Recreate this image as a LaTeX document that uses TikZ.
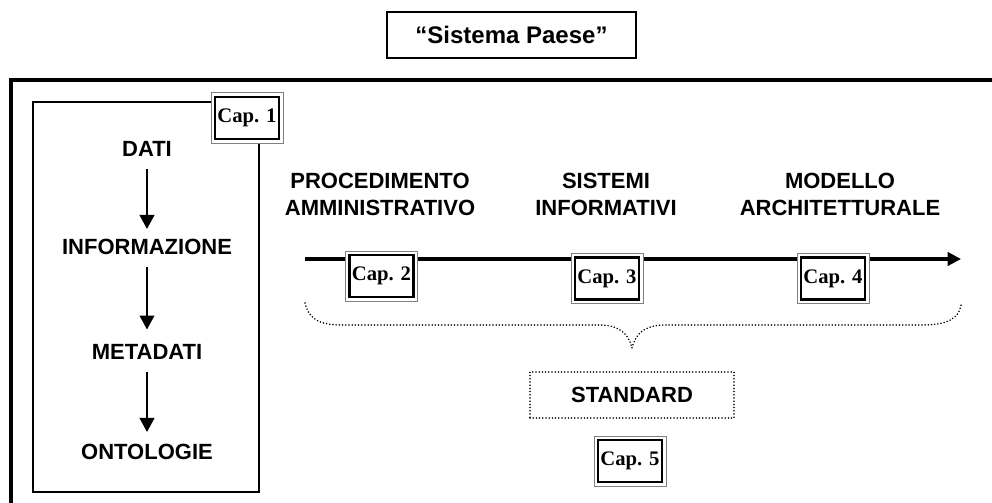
\documentclass[tikz,border=0pt]{standalone}
\usepackage{fontspec}
\setmainfont{Liberation Sans}
\newfontfamily\capserif{Liberation Serif}
\usetikzlibrary{arrows.meta}

\begin{document}
\begin{tikzpicture}[x=0.75pt, y=-0.75pt,
  lbl/.style={font=\fontsize{16.5}{20}\selectfont\bfseries, align=center, inner sep=0pt},
  capouter/.style={draw=gray, fill=white, line width=0.75pt, outer sep=0pt,
    minimum width=54pt, minimum height=37.5pt, inner sep=0pt},
  capinner/.style={draw=black, line width=2.2pt, outer sep=0pt, inner sep=0pt,
    minimum width=48pt, minimum height=31.5pt,
    font=\capserif\fontsize{15.5}{15.5}\selectfont\bfseries},
  flowarrow/.style={line width=1.5pt, -{Triangle[length=10.5pt, width=11pt]}},
  dotline/.style={line width=1.3pt, line cap=round, dash pattern=on 0pt off 2.4pt},
]
\useasboundingbox (0,0) rectangle (992,503);

% title box
\node[draw, line width=1.4pt, minimum width=186.75pt, minimum height=34.5pt,
  font=\fontsize{18}{18}\selectfont\bfseries] (title) at (511.5,35) {“Sistema Paese”};

% outer frame (top and left edges)
\coordinate (frTL) at (11,80);
\coordinate (frTR) at (992,80);
\coordinate (frBL) at (11,503);
\draw[line width=2.5pt] (frBL) -- (frTL) -- (frTR);

% left column box
\node[draw, line width=0.9pt, minimum width=169.5pt, minimum height=292.5pt,
  inner sep=0pt] (leftbox) at (146,297) {};

% left column items
\node[lbl] (dati) at (147,149) {DATI};
\node[lbl] (info) at (147,247) {INFORMAZIONE};
\node[lbl] (meta) at (147,352) {METADATI};
\node[lbl] (onto) at (147,452) {ONTOLOGIE};

\draw[flowarrow, shorten <=9pt, shorten >=7.5pt] (dati) -- (info);
\draw[flowarrow, shorten <=9pt, shorten >=11pt] (info) -- (meta);
\draw[flowarrow, shorten <=9pt, shorten >=9pt] (meta) -- (onto);

% headings above the time line
\node[lbl] (proc) at (380,194.5) {PROCEDIMENTO\\AMMINISTRATIVO};
\node[lbl] (sist) at (606,194.5) {SISTEMI\\INFORMATIVI};
\node[lbl] (mod) at (840,194.5) {MODELLO\\ARCHITETTURALE};

% time line
\coordinate (tlA) at (305,259);
\coordinate (tlB) at (961,259);
\draw[line width=2.3pt, -{Triangle[length=10pt, width=10pt]}] (tlA) -- (tlB);

% dotted brace
\coordinate (brL) at (305,303);
\coordinate (brR) at (961,305);
\coordinate (brTip) at (632,348);
\draw[dotline] (brL) .. controls (310,322) and (322,325) .. (345,325)
  -- (598,325) .. controls (618,325) and (628,332) .. (brTip)
  .. controls (636,332) and (646,325) .. (666,325)
  -- (922,325) .. controls (948,325) and (959,318) .. (brR);

% standard box
\node[dotline, draw, minimum width=153pt, minimum height=34.5pt,
  font=\fontsize{16.5}{16.5}\selectfont\bfseries] (std) at (632,395) {STANDARD};

% chapter boxes
\node[capouter] (c1o) at (247,118) {};
\node[capinner] (c1) at (247,118) {Cap. 1};
\node[capouter] (c2o) at (381.5,276) {};
\node[capinner] (c2) at (381.5,276) {Cap. 2};
\node[capouter] (c3o) at (607,278.5) {};
\node[capinner] (c3) at (607,278.5) {Cap. 3};
\node[capouter] (c4o) at (833,278.5) {};
\node[capinner] (c4) at (833,278.5) {Cap. 4};
\node[capouter] (c5o) at (630,461) {};
\node[capinner] (c5) at (630,461) {Cap. 5};
\end{tikzpicture}
\end{document}
